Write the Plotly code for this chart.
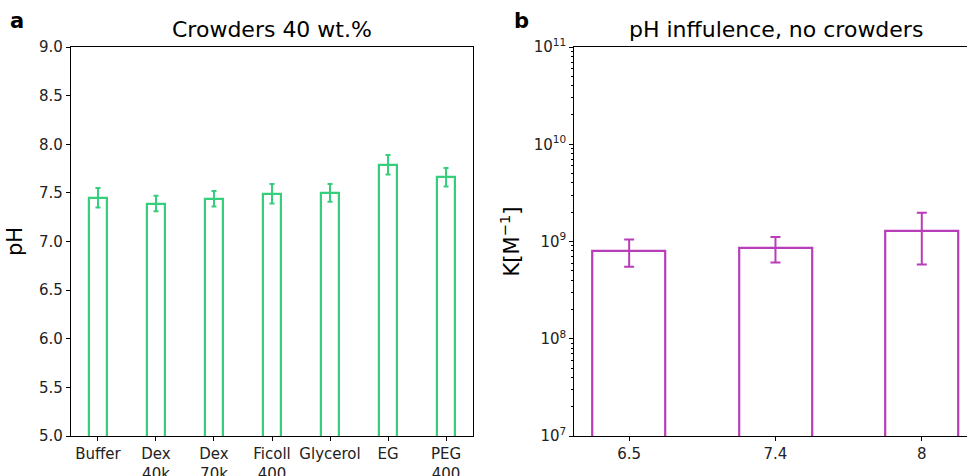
import plotly.graph_objects as go

# ---- data ----
crowders = ["Buffer", "Dex<br>40k", "Dex<br>70k", "Ficoll<br>400", "Glycerol", "EG", "PEG<br>400"]
ph_values = [7.45, 7.39, 7.44, 7.49, 7.50, 7.79, 7.66]
ph_errors = [0.10, 0.08, 0.08, 0.10, 0.09, 0.10, 0.095]

ph_levels = ["6.5", "7.4", "8"]
k_values = [8.0e8, 8.6e8, 1.28e9]
k_errors = [2.5e8, 2.5e8, 7.0e8]

k_exponents = [7, 8, 9, 10, 11]
k_tick_vals = [10 ** e for e in k_exponents]
k_tick_text = [f"10<sup>{e}</sup>" for e in k_exponents]

GREEN = "#35cf7c"
PURPLE = "#b83db8"
FONT = "DejaVu Sans"

W, H = 967, 476
L, R, T, B = 71, 0, 47, 40
pw = W - L - R
ph_ = H - T - B

def px_x(x):
    return (x - L) / pw

def px_y(y):
    return 1 - (y - T) / ph_

fig = go.Figure()

fig.add_trace(go.Bar(
    x=crowders, y=ph_values, width=0.3,
    marker=dict(color="rgba(255,255,255,0)", line=dict(color=GREEN, width=2.2)),
    error_y=dict(type="data", array=ph_errors, color=GREEN, thickness=2, width=2.5),
    xaxis="x", yaxis="y", showlegend=False,
))

fig.add_trace(go.Bar(
    x=ph_levels, y=k_values, width=0.5,
    marker=dict(color="rgba(255,255,255,0)", line=dict(color=PURPLE, width=2.2)),
    error_y=dict(type="data", array=k_errors, color=PURPLE, thickness=2, width=5),
    xaxis="x2", yaxis="y2", showlegend=False,
))

axis_common = dict(
    showline=True, linecolor="black", linewidth=1.2, mirror=True,
    ticks="outside", ticklen=4, tickwidth=1, tickcolor="black",
    showgrid=False, zeroline=False, automargin=False,
    tickfont=dict(family=FONT, size=15, color="#222"),
)

minor_vals = [m * 10 ** e for e in range(7, 11) for m in range(2, 10)]

fig.update_layout(
    width=W, height=H,
    margin=dict(l=L, r=R, t=T, b=B),
    paper_bgcolor="white", plot_bgcolor="white",
    bargap=0,
    xaxis=dict(domain=[0, px_x(473)], type="category", range=[-0.465, 6.465], **axis_common),
    yaxis=dict(range=[5, 9], dtick=0.5, tickformat=".1f", **axis_common,
               title=dict(text="pH", font=dict(family=FONT, size=21, color="black"), standoff=10)),
    xaxis2=dict(domain=[px_x(574.3), 1], type="category", range=[-0.375, 2.309], anchor="y2", **axis_common),
    yaxis2=dict(type="log", range=[7, 11], tickmode="array", tickvals=k_tick_vals, ticktext=k_tick_text,
                anchor="x2", **axis_common,
                minor=dict(tickvals=minor_vals, ticks="outside", ticklen=2.5, tickcolor="black", tickwidth=1),
                title=dict(text="K[M<sup>−1</sup>]", font=dict(family=FONT, size=21, color="black"), standoff=8)),
    annotations=[
        dict(text="Crowders 40 wt.%", x=px_x(272), y=1, xref="paper", yref="paper",
             xanchor="center", yanchor="bottom", yshift=3, showarrow=False,
             font=dict(family=FONT, size=22, color="black")),
        dict(text="pH inffulence, no crowders", x=px_x(775.5), y=1, xref="paper", yref="paper",
             xanchor="center", yanchor="bottom", yshift=3, showarrow=False,
             font=dict(family=FONT, size=22, color="black")),
        dict(text="<b>a</b>", x=px_x(17), y=px_y(21), xref="paper", yref="paper",
             xanchor="center", yanchor="middle", showarrow=False,
             font=dict(family=FONT, size=21, color="black")),
        dict(text="<b>b</b>", x=px_x(521), y=px_y(21), xref="paper", yref="paper",
             xanchor="center", yanchor="middle", showarrow=False,
             font=dict(family=FONT, size=21, color="black")),
    ],
)

fig.write_html("out.html")
